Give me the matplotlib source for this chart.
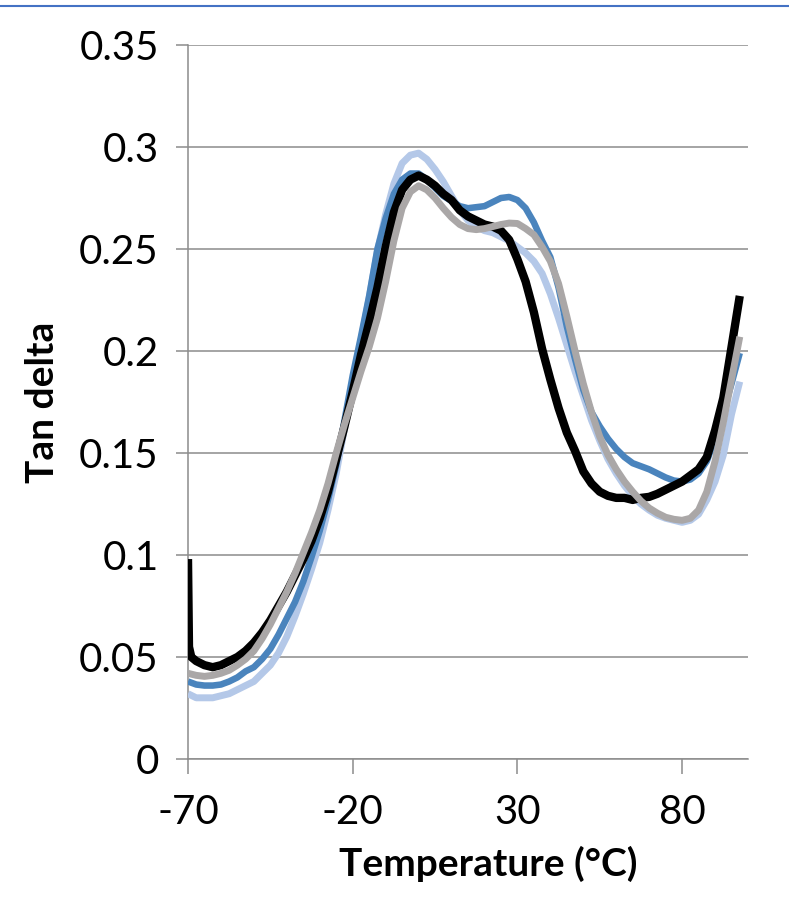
import matplotlib
matplotlib.use("Agg")
import matplotlib.pyplot as plt
from matplotlib.lines import Line2D
from matplotlib.ticker import FuncFormatter

# Temperature grid (°C) shared by the three smooth series
temps = [-70, -67.5, -65, -62.5, -60, -57.5, -55, -52.5, -50, -47.5, -45, -42.5,
         -40, -37.5, -35, -32.5, -30, -27.5, -25, -22.5, -20, -17.5, -15, -12.5,
         -10, -7.5, -5, -2.5, 0, 2.5, 5, 7.5, 10, 12.5, 15, 17.5, 20, 22.5, 25,
         27.5, 30, 32.5, 35, 37.5, 40, 42.5, 45, 47.5, 50, 52.5, 55, 57.5, 60,
         62.5, 65, 67.5, 70, 72.5, 75, 77.5, 80, 82.5, 85, 87.5, 90, 92.5, 95, 97.5]

light_blue = [0.032, 0.030, 0.030, 0.030, 0.031, 0.032, 0.034, 0.036, 0.038, 0.042,
              0.046, 0.052, 0.060, 0.070, 0.081, 0.093, 0.106, 0.122, 0.140, 0.162,
              0.184, 0.205, 0.226, 0.249, 0.267, 0.282, 0.292, 0.296, 0.297, 0.294,
              0.289, 0.283, 0.276, 0.269, 0.264, 0.261, 0.259, 0.258, 0.256, 0.254,
              0.251, 0.248, 0.244, 0.238, 0.228, 0.216, 0.203, 0.190, 0.178, 0.166,
              0.156, 0.147, 0.140, 0.134, 0.129, 0.125, 0.122, 0.1195, 0.118, 0.117,
              0.116, 0.117, 0.120, 0.127, 0.136, 0.149, 0.169, 0.185]

dark_blue = [0.038, 0.0365, 0.036, 0.036, 0.0365, 0.038, 0.040, 0.043, 0.045, 0.049,
             0.054, 0.061, 0.069, 0.077, 0.087, 0.099, 0.112, 0.127, 0.144, 0.166,
             0.188, 0.207, 0.227, 0.250, 0.265, 0.277, 0.284, 0.287, 0.287, 0.284,
             0.280, 0.276, 0.2735, 0.271, 0.270, 0.2705, 0.271, 0.273, 0.275, 0.2755,
             0.274, 0.270, 0.263, 0.254, 0.246, 0.231, 0.212, 0.196, 0.181, 0.170,
             0.163, 0.157, 0.152, 0.148, 0.145, 0.1435, 0.142, 0.140, 0.138, 0.1365,
             0.136, 0.137, 0.140, 0.146, 0.157, 0.170, 0.184, 0.199]

gray = [0.042, 0.041, 0.0405, 0.041, 0.042, 0.0435, 0.046, 0.049, 0.053, 0.059,
        0.066, 0.074, 0.082, 0.091, 0.101, 0.111, 0.122, 0.135, 0.150, 0.164,
        0.177, 0.190, 0.202, 0.216, 0.234, 0.254, 0.270, 0.278, 0.281, 0.279,
        0.275, 0.270, 0.2655, 0.262, 0.260, 0.2595, 0.260, 0.261, 0.262, 0.2627,
        0.2625, 0.260, 0.257, 0.251, 0.244, 0.233, 0.217, 0.200, 0.184, 0.170,
        0.158, 0.149, 0.142, 0.136, 0.131, 0.1265, 0.123, 0.1205, 0.1185, 0.1175,
        0.117, 0.118, 0.122, 0.131, 0.146, 0.165, 0.186, 0.207]

# Black (raw) series, including the initial spike at -70 °C
temps_black = [-70, -69.7, -69, -67.5, -65, -62.5, -60, -57.5, -55, -52.5, -50, -47.5,
               -45, -42.5, -40, -37.5, -35, -32.5, -30, -27.5, -25, -22.5, -20,
               -17.5, -15, -12.5, -10, -7.5, -5, -2.5, 0, 2.5, 5, 7.5, 10, 12.5, 15,
               17.5, 20, 22.5, 25, 27.5, 30, 32.5, 35, 37.5, 40, 42.5, 45, 47.5, 50,
               52.5, 55, 57.5, 60, 62.5, 65, 67.5, 70, 72.5, 75, 77.5, 80, 82.5, 85,
               87.5, 90, 92.5, 95, 97.5]
black = [0.098, 0.055, 0.050, 0.048, 0.046, 0.045, 0.046, 0.048, 0.050, 0.053, 0.057,
         0.062, 0.068, 0.075, 0.082, 0.090, 0.098, 0.107, 0.118, 0.131, 0.147, 0.163,
         0.180, 0.198, 0.214, 0.231, 0.251, 0.268, 0.279, 0.284, 0.286, 0.284, 0.281,
         0.277, 0.274, 0.269, 0.266, 0.264, 0.262, 0.261, 0.259, 0.2545, 0.245, 0.234,
         0.219, 0.201, 0.186, 0.172, 0.160, 0.151, 0.141, 0.135, 0.131, 0.129, 0.128,
         0.128, 0.127, 0.128, 0.1285, 0.130, 0.132, 0.134, 0.136, 0.139, 0.142, 0.148,
         0.161, 0.177, 0.202, 0.227]

x_ticks = [-70, -20, 30, 80]
y_ticks = [0, 0.05, 0.1, 0.15, 0.2, 0.25, 0.3, 0.35]
x_label = "Temperature (°C)"
y_label = "Tan delta"

plt.rcParams['font.family'] = ['Lato', 'DejaVu Sans']
plt.rcParams['axes.unicode_minus'] = False

W, H = 789, 906
fig = plt.figure(figsize=(W / 100, H / 100), dpi=100)
ax = fig.add_axes([188 / W, (H - 759) / H, 560 / W, 714 / H])

grid_c = '#8c8c8c'
ax.plot(temps, light_blue, color='#b4c8e8', lw=5.0, solid_capstyle='butt',
        solid_joinstyle='round', zorder=3)
ax.plot(temps, dark_blue, color='#4a84bd', lw=4.7, solid_capstyle='butt',
        solid_joinstyle='round', zorder=4)
ax.plot(temps_black, black, color='#000000', lw=6.0, solid_capstyle='butt',
        solid_joinstyle='round', zorder=5)
ax.plot(temps, gray, color='#aaa7a7', lw=5.0, solid_capstyle='butt',
        solid_joinstyle='round', zorder=6)

ax.set_xlim(-70, 100)
ax.set_ylim(0, 0.35)
ax.set_xticks(x_ticks)
ax.set_yticks(y_ticks)
ax.yaxis.set_major_formatter(FuncFormatter(lambda v, p: f"{v:g}"))
ax.xaxis.set_major_formatter(FuncFormatter(lambda v, p: f"{v:g}"))
ax.grid(axis='y', color=grid_c, lw=1.1)
ax.set_axisbelow(True)
for s in ['top', 'right']:
    ax.spines[s].set_visible(False)
for s in ['left', 'bottom']:
    ax.spines[s].set_color(grid_c)
    ax.spines[s].set_linewidth(1.1)
ax.tick_params(axis='y', direction='out', length=9, width=1.1, color=grid_c,
               labelsize=29, pad=12, labelcolor='black')
ax.tick_params(axis='x', direction='out', length=11, width=1.1, color=grid_c,
               labelsize=29, pad=14, labelcolor='black')

ax.set_xlabel(x_label, fontsize=28, fontweight='bold')
ax.set_ylabel(y_label, fontsize=28, fontweight='bold')
ax.xaxis.set_label_coords((488 - 188) / 560, -(864 - 759) / 714)
ax.yaxis.set_label_coords(-(188 - 43) / 560, 0.5)
ax.xaxis.label.set_va('center')
ax.yaxis.label.set_va('center')

# thin blue border line along the top of the image
fig.add_artist(Line2D([0, 1], [1 - 6 / H, 1 - 6 / H], transform=fig.transFigure,
                      color='#4472c4', lw=1.5))

fig.savefig("out.png", dpi=100)
